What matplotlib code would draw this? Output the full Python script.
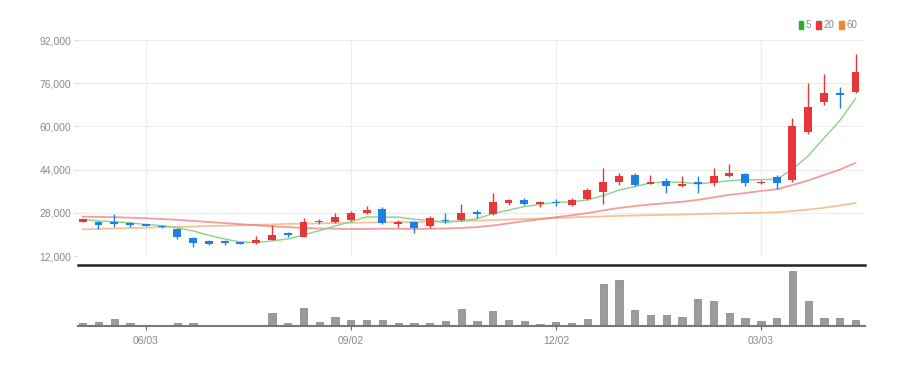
import matplotlib.pyplot as plt
import pandas as pd
from matplotlib.patches import Patch

plt.rcParams['font.family'] = ['Liberation Sans Narrow', 'Liberation Sans', 'DejaVu Sans']

# weekly candles, 2024-05-06 .. 2025-04-14
dates = pd.date_range('2024-05-06', periods=50, freq='W-MON')

opens = [24700, 24700, 24700, 24100, 23800, 23200, 22000, 18800, 17600, 17500,
         17100, 16800, 18000, 20300, 19200, 25100, 24600, 25400, 28000, 29600,
         23800, 24500, 23000, 25300, 25300, 28400, 27600, 31800, 32700, 31200,
         32100, 31000, 33000, 35800, 39600, 42000, 38700, 39800, 38000, 39400,
         39100, 41700, 42400, 39100, 41400, 40200, 58000, 68900, 72500, 72900]
highs = [25700, 25100, 27500, 24500, 24000, 23400, 22200, 19000, 18000, 18100,
         17200, 19400, 23400, 21000, 26000, 25700, 28000, 28500, 30500, 30000,
         25200, 25000, 26700, 28000, 31100, 29000, 35200, 33300, 33400, 32300,
         33100, 33400, 37300, 44500, 42700, 42700, 42000, 40800, 41500, 41500,
         44700, 46000, 42900, 40200, 42000, 63000, 76000, 79400, 74700, 86800]
lows = [24600, 21900, 22700, 22800, 23000, 22200, 18300, 15500, 16000, 15900,
        16400, 16600, 17800, 19200, 19000, 24000, 24200, 24800, 27600, 23800,
        22900, 20600, 22500, 24300, 25000, 26000, 27300, 30800, 31000, 30000,
        30600, 30500, 32800, 31300, 38200, 37800, 38500, 35300, 37400, 35200,
        37900, 41200, 37900, 38600, 36700, 39500, 57200, 67900, 67000, 72500]
closes = [25600, 23600, 23700, 23500, 23300, 22600, 19000, 16800, 16600, 16700,
          16600, 18100, 19800, 19900, 24700, 24600, 26500, 27800, 29200, 24100,
          24500, 22300, 26200, 24800, 27800, 27700, 32100, 32600, 31300, 31900,
          31600, 32700, 36400, 39500, 41700, 38400, 39500, 38000, 38800, 38700,
          41600, 42600, 39200, 39600, 39200, 60100, 67300, 72300, 71600, 80200]
volumes = [8, 12, 22, 9, 4, 2, 8, 9, 3, 3,
           3, 3, 39, 9, 54, 12, 28, 18, 18, 18,
           9, 9, 9, 14, 51, 14, 44, 19, 14, 7,
           12, 9, 22, 127, 139, 47, 34, 32, 27, 82,
           74, 39, 24, 14, 24, 164, 74, 24, 24, 19]
volumes = [v * 1000 for v in volumes]

ma5 = [25600, 25000, 24700, 24300, 23700, 23300, 22500, 21300, 19700, 18300,
       17200, 17000, 17600, 18300, 19800, 21400, 23100, 24700, 26500, 26400,
       26400, 25600, 25300, 24400, 25100, 25800, 27700, 29000, 30300, 31100,
       31900, 32000, 32800, 34400, 36400, 37700, 39100, 39400, 39300, 38700,
       39300, 39900, 40200, 40300, 40400, 44100, 49100, 55700, 62100, 70300]
ma20 = [26600, 26500, 26400, 26200, 26000, 25700, 25400, 25000, 24600, 24200,
        23800, 23400, 23000, 22700, 22400, 22200, 22100, 22000, 22000, 22100,
        22100, 22000, 22100, 22200, 22400, 22700, 23300, 24100, 24900, 25600,
        26400, 27100, 27900, 28900, 29800, 30500, 31100, 31600, 32100, 32800,
        33700, 34700, 35300, 36100, 36700, 38300, 40000, 42000, 44000, 46500]
ma60 = [21900, 22050, 22200, 22350, 22500, 22650, 22800, 22950, 23100, 23250,
        23400, 23550, 23700, 23900, 24000, 24100, 24200, 24300, 24400, 24500,
        24550, 24600, 24700, 24800, 24900, 25100, 25300, 25500, 25700, 25900,
        26100, 26300, 26500, 26700, 26850, 27000, 27150, 27250, 27400, 27550,
        27700, 27800, 27900, 28050, 28200, 28650, 29200, 29900, 30700, 31600]

tick_dates = ['2024-06-03', '2024-09-02', '2024-12-02', '2025-03-03']
price_ticks = [12000, 28000, 44000, 60000, 76000, 92000]

UP = '#e8373a'
DOWN = '#1f7fe3'
GRID = '#ececec'
TXT = '#8a8a8a'

x = list(range(len(dates)))
tick_idx = [list(dates.strftime('%Y-%m-%d')).index(d) for d in tick_dates]
tick_labels = [pd.Timestamp(d).strftime('%m/%d') for d in tick_dates]

fig = plt.figure(figsize=(9.13, 3.66), dpi=100)
ax = fig.add_axes([0.0854, 0.3005, 0.862, 0.590])
axv = fig.add_axes([0.0854, 0.1093, 0.862, 0.167])

# price panel
ax.plot(x, ma60, color='#f6b27f', lw=1.3, alpha=0.8, zorder=2)
ax.plot(x, ma20, color='#f07c7c', lw=1.3, alpha=0.75, zorder=2)
ax.plot(x, ma5, color='#86d486', lw=1.0, zorder=2)

for i in x:
    o, h, l, c = opens[i], highs[i], lows[i], closes[i]
    col = UP if c >= o else DOWN
    ax.vlines(i, l, h, color=col, lw=1.0, zorder=3)
    body = max(abs(c - o), 450)
    ax.bar(i, body, bottom=min(o, c), width=0.5, color=col, zorder=4)

ax.set_xlim(-0.3, 49.6)
ax.set_ylim(12000, 92000)
ax.set_yticks(price_ticks)
ax.set_yticklabels([f'{v:,}' for v in price_ticks])
ax.set_xticks(tick_idx)
ax.tick_params(axis='x', length=0, labelbottom=False)
ax.tick_params(axis='y', length=3, color='#dddddd', pad=2, labelsize=7.5, labelcolor=TXT)
ax.grid(True, color=GRID, lw=0.8)
ax.set_axisbelow(True)
for s in ax.spines.values():
    s.set_visible(False)

handles = [Patch(color='#22b322', label='5'), Patch(color='#e8373a', label='20'),
           Patch(color='#f08a2c', label='60')]
ax.legend(handles=handles, loc='center right', bbox_to_anchor=(0.995, 1.07), ncol=3,
          frameon=False, fontsize=7, handlelength=0.5, handleheight=0.9,
          handletextpad=0.25, columnspacing=0.5, labelcolor=TXT, borderaxespad=0)

# volume panel
axv.bar(x, volumes, width=0.46, color='#9b9b9b', edgecolor='#808080', lw=0.5)
axv.set_xlim(-0.3, 49.6)
axv.set_ylim(0, 183000)
axv.set_yticks([])
axv.set_xticks(tick_idx)
axv.set_xticklabels(tick_labels)
axv.tick_params(axis='x', length=3, color='#666666', labelsize=7.5, labelcolor=TXT, pad=4)
axv.spines['left'].set_visible(False)
axv.spines['right'].set_visible(False)
axv.spines['top'].set_color('#222222')
axv.spines['top'].set_linewidth(1.8)
axv.spines['bottom'].set_color('#777777')
axv.spines['bottom'].set_linewidth(1.5)

fig.savefig('out.png', dpi=100)
